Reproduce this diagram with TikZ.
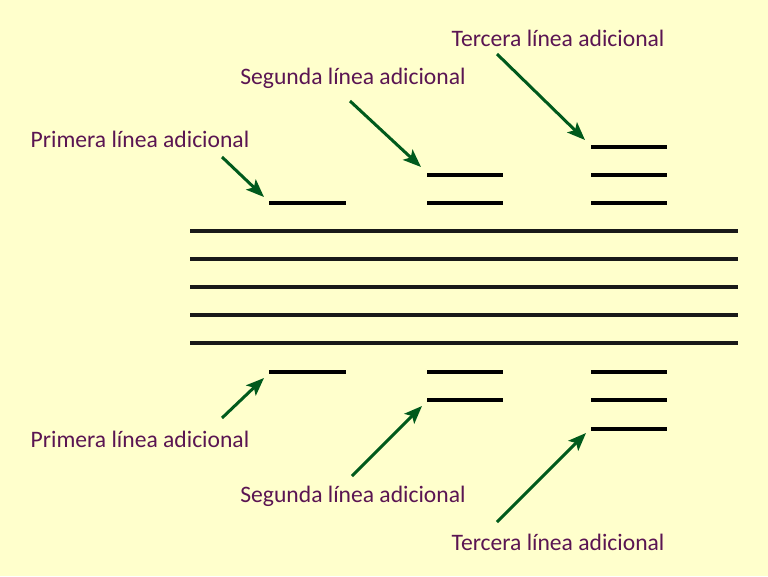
\documentclass[tikz,border=0pt]{standalone}
\usepackage{fontspec}
\setmainfont{Carlito}
\usetikzlibrary{arrows.meta}
\definecolor{fondo}{HTML}{FFFFCC}
\definecolor{texto}{HTML}{5A1552}
\definecolor{flecha}{HTML}{005A1C}
\tikzset{
  etiqueta/.style={text=texto,font=\fontsize{23.6}{28}\selectfont,inner sep=0pt},
  pauta/.style={line width=3.4pt,black!90},
  adicional/.style={line width=4pt,black},
  flechita/.style={flecha,line width=3pt,-{Stealth[length=18pt,width=14pt,inset=4pt]}}
}
\begin{document}
\begin{tikzpicture}[x=1pt,y=-1pt]
  \fill[fondo] (0,0) rectangle (768,576);
  \useasboundingbox (0,0) rectangle (768,576);
  % pentagrama
  \foreach \y in {231,259,287,315,343}
    \draw[pauta] (190,\y) -- (738,\y);
  % lineas adicionales arriba
  \draw[adicional] (269,203) -- (346,203);
  \foreach \y in {175,203}
    \draw[adicional] (427,\y) -- (503,\y);
  \foreach \y in {147,175,203}
    \draw[adicional] (591,\y) -- (667,\y);
  % lineas adicionales abajo
  \draw[adicional] (269,372) -- (346,372);
  \foreach \y in {372,400}
    \draw[adicional] (427,\y) -- (503,\y);
  \foreach \y in {372,400,429}
    \draw[adicional] (591,\y) -- (667,\y);
  % etiquetas
  \node[etiqueta] (prim1) at (140,139) {Primera línea adicional};
  \node[etiqueta] (seg1)  at (353,78)  {Segunda línea adicional};
  \node[etiqueta] (ter1)  at (558,38)  {Tercera línea adicional};
  \node[etiqueta] (prim2) at (140,439) {Primera línea adicional};
  \node[etiqueta] (seg2)  at (353,496) {Segunda línea adicional};
  \node[etiqueta] (ter2)  at (558,542) {Tercera línea adicional};
  % puntas de flecha
  \coordinate (a1) at (222,157);  \coordinate (b1) at (264,197);
  \coordinate (a2) at (350,101);  \coordinate (b2) at (421,167);
  \coordinate (a3) at (497,54);   \coordinate (b3) at (585,140);
  \coordinate (a4) at (222,418);  \coordinate (b4) at (264,378);
  \coordinate (a5) at (352,476);  \coordinate (b5) at (422,406);
  \coordinate (a6) at (497,522);  \coordinate (b6) at (586,433);
  \foreach \i in {1,...,6}
    \draw[flechita] (a\i) -- (b\i);
\end{tikzpicture}
\end{document}
